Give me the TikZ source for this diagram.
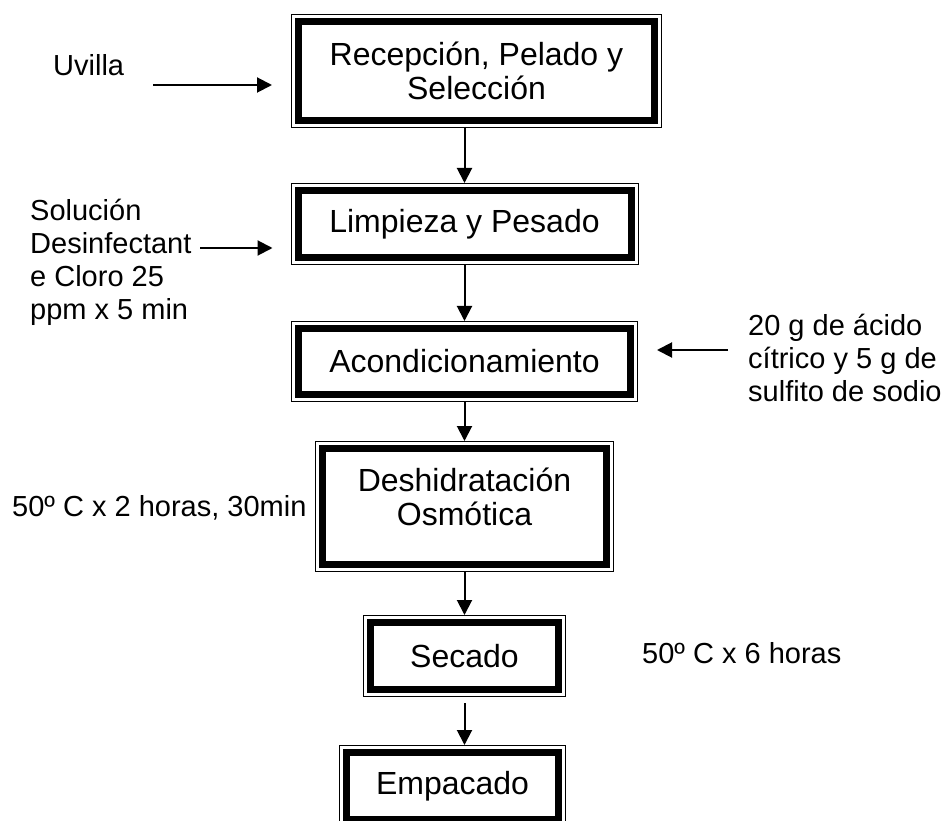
\documentclass[tikz,border=0pt]{standalone}
\usepackage{fontspec}
\setmainfont{Liberation Sans}
\usetikzlibrary{arrows.meta}

\begin{document}
\begin{tikzpicture}[x=1pt,y=-1pt,>={Triangle[length=15pt,width=15pt]},
    proc/.style={rectangle,preaction={draw=black,line width=15pt},
      preaction={draw=white,line width=13pt},fill=white,draw,line width=7pt,
      outer sep=7.5pt,inner sep=0pt,align=center,font=\fontsize{32}{34}\selectfont},
    lbl/.style={inner sep=0pt,align=left,anchor=west,font=\fontsize{29}{33}\selectfont},
    flow/.style={->,line width=2pt}]
      \useasboundingbox (0,0) rectangle (946,821);
      \clip (0,0) rectangle (946,821);

      \node[proc,minimum width=356pt,minimum height=99pt] (recep) at (476.5,71) {Recepción, Pelado y\\Selección};
      \node[proc,minimum width=333pt,minimum height=67pt] (limp) at (464.5,224) {Limpieza y Pesado};
      \node[proc,minimum width=332pt,minimum height=66pt] (acond) at (464.5,361.5) {Acondicionamiento};
      \node[proc,minimum width=284pt,minimum height=116pt,text depth=20pt] (deshid) at (464.5,506.5) {Deshidratación\\Osmótica};
      \node[proc,minimum width=188pt,minimum height=67pt] (secado) at (464.5,656) {Secado};
      \node[proc,minimum width=212pt,minimum height=67pt] (empac) at (452.5,786) {Empacado};

      \node[lbl] (uvilla) at (53,65) {Uvilla};
      \node[lbl] (sol) at (30,262) {Solución\\Desinfectant\\e Cloro 25\\ppm x 5 min};
      \node[lbl] (acido) at (748,358) {20 g de ácido\\cítrico y 5 g de\\sulfito de sodio};
      \node[lbl] (temp1) at (12,508) {50º C x 2 horas, 30min};
      \node[lbl] (temp2) at (642,653) {50º C x 6 horas};

      \coordinate (in1) at (153,85);
      \coordinate (in2) at (200,248);
      \coordinate (in3) at (728,350);

      \draw[flow,shorten >=19pt] (in1) -- (in1 -| recep.west);
      \draw[flow,shorten >=18pt] (in2) -- (in2 -| limp.west);
      \draw[flow,shorten >=19pt] (in3) -- (in3 -| acond.east);

      \draw[flow] (recep.south -| limp.north) -- (limp.north);
      \draw[flow] (limp.south) -- (acond.north);
      \draw[flow] (acond.south) -- (deshid.north);
      \draw[flow] (deshid.south) -- (secado.north);
      \draw[flow,shorten <=6pt] (secado.south) -- (secado.south |- empac.north);
\end{tikzpicture}
\end{document}
